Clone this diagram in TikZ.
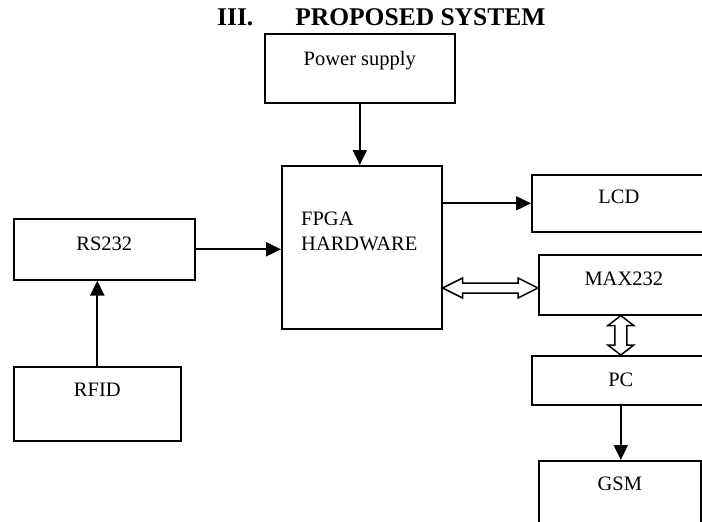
\documentclass[tikz,border=0pt]{standalone}
\usepackage{fontspec}
\setmainfont{Liberation Serif}
\usetikzlibrary{arrows.meta,calc}

\tikzset{
  blk/.style={draw, line width=1.6pt, rectangle, inner sep=0pt, anchor=north west},
  txt/.style={font=\fontsize{20.5}{25}\selectfont},
  arr/.style={line width=2pt, -{Triangle[length=15pt,width=14pt]}},
  hollow/.style={draw, line width=1.5pt, fill=white, line join=miter}
}

\begin{document}
\begin{tikzpicture}[x=1pt,y=-1pt]
  \clip (0,0) rectangle (702,522);

  % Title
  \node[anchor=base west, inner sep=0pt, font=\fontsize{25.5}{29}\selectfont\bfseries] (title) at (217,25) {III.\hspace{42pt}PROPOSED SYSTEM};

  % Define the blocks
  \node[blk, minimum width=190pt, minimum height=69pt,
        label={[txt,anchor=base,yshift=-32pt]north:Power supply}] (pwr) at (264,33) {};
  \node[blk, minimum width=160pt, minimum height=163pt,
        label={[txt,anchor=north west,align=left,inner sep=0pt,xshift=20pt,yshift=-47pt]north west:{FPGA\\HARDWARE}}] (fpga) at (281,165) {};
  \node[blk, minimum width=181pt, minimum height=61pt,
        label={[txt,anchor=base,yshift=-32pt]north:RS232}] (rs) at (13,218) {};
  \node[blk, minimum width=167pt, minimum height=74pt,
        label={[txt,anchor=base,yshift=-30pt]north:RFID}] (rfid) at (13,366) {};
  \node[blk, minimum width=174pt, minimum height=57pt,
        label={[txt,anchor=base,yshift=-29pt]north:LCD}] (lcd) at (531,174) {};
  \node[blk, minimum width=170pt, minimum height=60pt,
        label={[txt,anchor=base,yshift=-31pt]north:MAX232}] (max) at (538,254) {};
  \node[blk, minimum width=178pt, minimum height=49pt,
        label={[txt,anchor=base,yshift=-31pt]north:PC}] (pc) at (531,355) {};
  \node[blk, minimum width=162pt, minimum height=90pt,
        label={[txt,anchor=base,yshift=-30pt]north:GSM}] (gsm) at (538,460) {};

  % Plain arrows
  \draw[arr] (pwr.south) -- (pwr.south |- fpga.north);
  \draw[arr] (rs.east) -- (rs.east -| fpga.west);
  \draw[arr] (rfid.north) -- (rfid.north |- rs.south);
  \draw[arr] (lcd.west -| fpga.east) -- (lcd.west);
  \draw[arr] (pc.south) -- (pc.south |- gsm.north);

  % Hollow double arrows
  \coordinate (hl) at (fpga.east |- 0,288);
  \coordinate (hr) at (max.west |- 0,288);
  \path[hollow] (hl) -- ($(hl)+(20,-10)$) -- ($(hl)+(20,-5)$) -- ($(hr)+(-20,-5)$)
    -- ($(hr)+(-20,-10)$) -- (hr) -- ($(hr)+(-20,10)$) -- ($(hr)+(-20,5)$)
    -- ($(hl)+(20,5)$) -- ($(hl)+(20,10)$) -- cycle;

  \coordinate (vt) at (pc.north |- max.south);
  \coordinate (vb) at (pc.north);
  \path[hollow] (vt) -- ($(vt)+(13,10)$) -- ($(vt)+(6,10)$) -- ($(vb)+(6,-10)$)
    -- ($(vb)+(13,-10)$) -- (vb) -- ($(vb)+(-13,-10)$) -- ($(vb)+(-6,-10)$)
    -- ($(vt)+(-6,10)$) -- ($(vt)+(-13,10)$) -- cycle;
\end{tikzpicture}
\end{document}
